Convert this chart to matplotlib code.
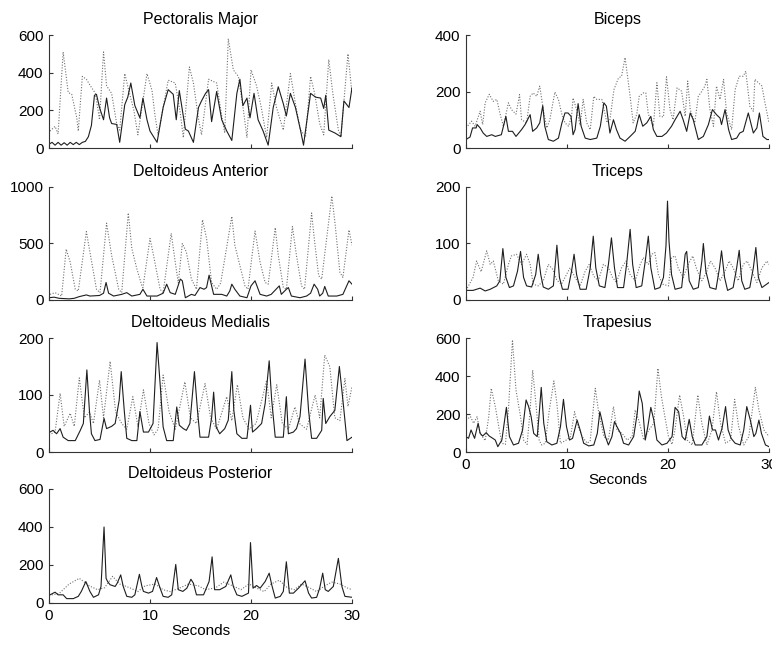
import matplotlib
matplotlib.use("Agg")
import matplotlib.pyplot as plt

# EMG envelopes, (seconds, value) pairs
pect_solid = [(0, 20), (0.3, 30), (0.6, 15), (0.9, 30), (1.2, 15), (1.5, 28), (1.8, 15), (2.1, 30), (2.4, 18),
              (2.7, 30), (3.0, 18), (3.3, 30), (3.6, 35), (3.9, 60), (4.2, 120), (4.5, 280), (4.7, 285), (5.0, 215),
              (5.4, 150), (5.7, 265), (6.0, 160), (6.2, 130), (6.7, 125), (7.0, 30), (7.5, 230), (7.8, 270),
              (8.1, 345), (8.5, 225), (9.0, 160), (9.3, 265), (9.7, 150), (10.0, 90), (10.7, 30), (11.3, 215),
              (11.8, 310), (12.3, 285), (12.6, 150), (12.9, 305), (13.5, 100), (13.8, 90), (14.3, 30), (14.8, 215),
              (15.1, 250), (15.5, 290), (15.8, 310), (16.1, 140), (16.6, 300), (17.1, 150), (17.6, 90), (18.1, 40),
              (18.6, 290), (18.9, 365), (19.2, 225), (19.6, 265), (19.9, 160), (20.3, 290), (20.7, 150), (21.2, 90),
              (21.7, 15), (22.2, 215), (22.7, 325), (23.2, 235), (23.5, 170), (23.9, 290), (24.4, 215), (24.9, 95),
              (25.2, 15), (25.9, 290), (26.4, 270), (26.9, 265), (27.2, 210), (27.4, 280), (27.7, 95), (28.3, 80),
              (28.9, 60), (29.2, 250), (29.7, 215), (30.0, 320)]
pect_dotted = [(0.1, 90), (0.6, 115), (0.9, 75), (1.4, 510), (1.9, 295), (2.25, 285), (2.75, 160), (2.9, 90),
               (3.3, 380), (3.7, 365), (4.1, 330), (4.6, 290), (5.0, 150), (5.4, 510), (5.7, 330), (6.2, 290),
               (6.7, 130), (7.0, 95), (7.5, 395), (7.9, 305), (8.4, 200), (8.8, 70), (9.7, 395), (10.2, 305),
               (10.5, 170), (10.8, 70), (11.8, 360), (12.5, 345), (13.0, 185), (13.3, 55), (13.9, 430), (14.3, 345),
               (14.8, 155), (15.1, 70), (15.8, 365), (16.6, 345), (17.1, 170), (17.4, 80), (17.75, 580), (18.25, 415),
               (18.75, 380), (19.25, 200), (19.6, 55), (20.0, 415), (20.55, 330), (21.0, 220), (21.55, 55),
               (22.05, 345), (22.5, 220), (23.2, 95), (23.9, 395), (24.4, 235), (24.9, 95), (25.4, 60), (25.9, 380),
               (26.3, 290), (26.8, 130), (27.2, 70), (27.7, 470), (28.1, 290), (28.65, 95), (28.9, 60), (29.6, 500),
               (30.0, 290)]

dant_solid = [(0, 20), (0.5, 25), (1.0, 15), (2.0, 10), (2.5, 15), (3.0, 30), (3.7, 45), (4.05, 35), (5.0, 40),
              (5.4, 60), (5.65, 155), (5.9, 60), (6.4, 35), (7.2, 50), (7.7, 65), (8.2, 35), (9.0, 50), (9.3, 95),
              (9.7, 35), (10.7, 35), (11.3, 60), (11.65, 140), (12.0, 65), (12.5, 50), (13.0, 185), (13.2, 170),
              (13.5, 20), (14.1, 50), (14.45, 40), (14.95, 110), (15.35, 95), (15.6, 110), (15.85, 220), (16.3, 50),
              (17.1, 50), (17.6, 35), (17.9, 80), (18.1, 140), (18.4, 95), (18.9, 35), (19.6, 20), (20.0, 125),
              (20.4, 170), (20.9, 50), (21.55, 35), (22.0, 50), (22.8, 125), (23.0, 50), (23.5, 95), (23.7, 110),
              (24.0, 35), (24.85, 20), (25.5, 35), (25.9, 60), (26.25, 140), (26.6, 95), (26.8, 35), (27.1, 60),
              (27.3, 120), (27.65, 35), (28.5, 35), (29.1, 50), (29.7, 170), (30.0, 140)]
dant_dotted = [(0.1, 50), (0.6, 65), (1.25, 35), (1.7, 450), (2.1, 335), (2.6, 95), (2.9, 80), (3.7, 605),
               (4.05, 425), (4.7, 95), (5.05, 65), (5.7, 680), (6.2, 395), (6.9, 95), (7.2, 65), (7.85, 770),
               (8.2, 455), (8.7, 275), (9.2, 125), (9.3, 110), (10.0, 545), (10.35, 395), (11.0, 95), (11.3, 65),
               (12.1, 590), (12.5, 335), (12.8, 150), (13.2, 500), (13.6, 425), (14.1, 185), (14.6, 95), (15.2, 710),
               (15.6, 545), (16.1, 155), (16.6, 95), (17.0, 150), (18.1, 740), (18.4, 485), (18.9, 305), (19.4, 125),
               (19.7, 95), (20.4, 610), (20.9, 335), (21.4, 155), (21.7, 140), (22.4, 640), (22.7, 395), (23.2, 110),
               (23.5, 95), (24.1, 650), (24.5, 395), (25.0, 125), (25.3, 95), (26.0, 770), (26.3, 515), (26.7, 215),
               (27.0, 185), (28.0, 920), (28.3, 695), (28.8, 245), (29.1, 200), (29.7, 620), (30.0, 485)]

dmed_solid = [(0.1, 35), (0.4, 38), (0.75, 32), (1.1, 41), (1.4, 26), (1.9, 20), (2.6, 20), (3.1, 38), (3.4, 50),
              (3.75, 144), (4.0, 73), (4.2, 32), (4.55, 20), (5.05, 22), (5.45, 59), (5.7, 41), (6.2, 45),
              (6.55, 50), (6.95, 91), (7.15, 141), (7.45, 73), (7.7, 24), (8.2, 20), (8.7, 20), (9.0, 71),
              (9.35, 35), (9.85, 35), (10.3, 50), (10.7, 192), (11.0, 120), (11.3, 44), (11.65, 20), (12.3, 20),
              (12.65, 79), (12.9, 47), (13.3, 41), (13.6, 38), (13.95, 50), (14.4, 141), (14.7, 73), (14.95, 26),
              (15.8, 26), (16.1, 60), (16.3, 105), (16.55, 44), (16.9, 32), (17.4, 41), (17.75, 56), (18.1, 141),
              (18.3, 73), (18.6, 32), (19.1, 24), (19.6, 24), (19.95, 82), (20.15, 35), (20.55, 41), (21.05, 50),
              (21.4, 85), (21.8, 160), (22.05, 91), (22.4, 26), (23.2, 26), (23.5, 97), (23.7, 32), (24.2, 35),
              (24.5, 41), (24.85, 62), (25.35, 163), (25.7, 73), (26.0, 24), (26.5, 24), (27.0, 38), (27.15, 94),
              (27.4, 50), (27.8, 62), (28.3, 73), (28.75, 150), (29.1, 91), (29.5, 20), (30.0, 26)]
dmed_dotted = [(0, 30), (0.6, 35), (1.1, 103), (1.5, 45), (2.1, 68), (2.5, 45), (3.0, 130), (3.5, 60), (4.0, 70),
               (4.4, 50), (5.0, 126), (5.4, 60), (6.05, 159), (6.6, 70), (7.2, 50), (7.7, 40), (8.3, 97), (8.8, 45),
               (9.35, 109), (9.9, 50), (10.4, 30), (10.8, 40), (11.3, 135), (11.9, 70), (12.5, 40), (13.45, 123),
               (14.0, 60), (14.6, 50), (15.45, 120), (16.0, 60), (16.6, 40), (17.6, 97), (18.1, 55), (18.65, 118),
               (19.2, 60), (19.8, 40), (20.5, 50), (21.55, 126), (22.0, 60), (22.55, 118), (23.1, 50), (23.7, 40),
               (24.35, 79), (24.8, 50), (25.5, 40), (26.35, 100), (26.8, 60), (27.3, 170), (27.8, 150), (28.3, 60),
               (28.8, 55), (29.3, 129), (29.6, 80), (30.0, 115)]

dpost_solid = [(0.1, 43), (0.6, 57), (0.9, 43), (1.4, 43), (1.75, 23), (2.4, 23), (2.9, 35), (3.2, 61), (3.65, 113),
               (4.05, 61), (4.4, 30), (4.9, 43), (5.15, 87), (5.45, 400), (5.65, 130), (5.8, 113), (6.05, 96),
               (6.55, 87), (6.75, 104), (7.1, 148), (7.35, 87), (7.7, 35), (8.2, 30), (8.5, 43), (8.95, 151),
               (9.2, 87), (9.35, 61), (9.85, 52), (10.25, 61), (10.65, 134), (11.0, 78), (11.3, 35), (11.8, 30),
               (12.15, 43), (12.55, 203), (12.8, 70), (13.25, 61), (13.65, 78), (14.05, 125), (14.3, 104),
               (14.6, 43), (15.3, 43), (15.85, 113), (16.15, 243), (16.4, 70), (16.9, 70), (17.5, 87), (18.0, 148),
               (18.25, 87), (18.6, 43), (19.1, 35), (19.75, 52), (19.95, 318), (20.2, 78), (20.55, 92), (20.9, 78),
               (21.4, 113), (21.8, 157), (22.05, 96), (22.4, 26), (22.9, 35), (23.2, 61), (23.5, 217), (23.8, 52),
               (24.2, 52), (24.7, 78), (25.35, 117), (25.7, 52), (26.0, 26), (26.5, 30), (26.8, 78), (27.1, 157),
               (27.35, 70), (27.65, 61), (28.15, 87), (28.65, 235), (29.0, 87), (29.3, 35), (30.0, 30)]
dpost_dotted = [(0, 40), (1, 50), (2, 100), (3, 130), (4, 90), (4.8, 70), (5.5, 80), (6.3, 140), (7, 100), (8, 80),
                (8.8, 60), (9.5, 90), (10.5, 100), (11.3, 70), (12, 60), (13, 80), (13.8, 100), (14.8, 90),
                (15.5, 70), (16.5, 80), (17.3, 110), (18.2, 90), (19, 70), (19.8, 100), (20.5, 80), (21.3, 60),
                (22, 100), (22.8, 120), (23.6, 80), (24.3, 70), (25, 100), (25.8, 80), (26.5, 60), (27.3, 90),
                (28, 110), (28.8, 100), (29.5, 80), (30, 70)]

bic_solid = [(0.0, 30), (0.4, 39), (0.65, 71), (1.0, 71), (1.1, 83), (1.4, 71), (1.7, 53), (2.05, 41), (2.55, 47),
             (2.9, 41), (3.5, 47), (3.95, 112), (4.2, 59), (4.6, 59), (4.95, 41), (5.5, 65), (5.85, 83), (6.35, 118),
             (6.6, 59), (7.0, 71), (7.3, 89), (7.6, 150), (7.8, 77), (8.15, 30), (8.65, 24), (9.15, 35), (9.5, 89),
             (9.8, 124), (10.1, 124), (10.4, 112), (10.6, 47), (10.8, 65), (11.1, 157), (11.4, 77), (11.8, 35),
             (12.3, 30), (12.95, 35), (13.3, 77), (13.65, 160), (13.9, 148), (14.25, 53), (14.6, 100), (14.9, 65),
             (15.25, 35), (15.75, 24), (16.25, 41), (16.75, 59), (17.15, 118), (17.5, 77), (17.9, 89), (18.3, 112),
             (18.55, 65), (18.9, 41), (19.4, 41), (19.85, 53), (20.35, 77), (20.7, 100), (21.2, 130), (21.5, 100),
             (21.85, 59), (22.2, 124), (22.5, 100), (23.0, 30), (23.5, 41), (24.0, 83), (24.4, 136), (24.8, 118),
             (25.15, 106), (25.3, 83), (25.65, 136), (26.0, 65), (26.3, 30), (26.8, 35), (27.1, 53), (27.45, 59),
             (27.95, 124), (28.45, 53), (28.8, 71), (29.05, 124), (29.4, 41), (29.8, 30), (30.0, 30)]
bic_dotted = [(0.0, 71), (0.55, 95), (0.9, 77), (1.4, 130), (1.65, 83), (1.9, 160), (2.3, 190), (2.7, 165),
              (3.05, 172), (3.35, 124), (3.7, 77), (4.2, 160), (4.5, 136), (4.95, 120), (5.3, 189), (5.5, 100),
              (6.0, 89), (6.35, 183), (6.65, 195), (7.0, 183), (7.3, 219), (7.65, 136), (8.0, 71), (8.3, 100),
              (8.8, 198), (9.15, 172), (9.5, 118), (9.8, 89), (10.15, 77), (10.45, 112), (10.6, 177), (10.95, 136),
              (11.3, 80), (11.6, 172), (11.95, 89), (12.3, 65), (12.65, 183), (12.95, 172), (13.45, 172),
              (13.95, 90), (14.25, 100), (14.65, 207), (15.1, 248), (15.4, 254), (15.75, 320), (15.95, 266),
              (16.25, 183), (16.55, 89), (16.9, 118), (17.15, 183), (17.55, 195), (17.8, 195), (18.05, 120),
              (18.55, 77), (18.9, 231), (19.2, 112), (19.55, 110), (19.85, 252), (20.2, 136), (20.5, 100),
              (20.9, 213), (21.35, 201), (21.7, 112), (21.95, 237), (22.2, 136), (22.65, 89), (23.0, 183),
              (23.35, 201), (23.65, 219), (23.85, 243), (24.15, 136), (24.5, 77), (24.8, 219), (25.15, 172),
              (25.5, 243), (25.8, 124), (26.3, 65), (26.65, 207), (27.05, 254), (27.45, 254), (27.7, 272),
              (28.1, 148), (28.45, 130), (28.6, 243), (28.95, 231), (29.3, 219), (29.6, 160), (30.0, 89)]

tri_solid = [(0.0, 17), (0.7, 17), (1.4, 21), (1.9, 16), (2.4, 19), (3.05, 25), (3.35, 34), (3.65, 91), (3.95, 40),
             (4.3, 22), (4.7, 25), (5.1, 51), (5.4, 86), (5.7, 40), (6.0, 25), (6.5, 23), (6.9, 45), (7.15, 81),
             (7.4, 45), (7.65, 23), (8.15, 19), (8.65, 25), (9.0, 97), (9.25, 40), (9.55, 19), (10.1, 19),
             (10.45, 51), (10.7, 81), (10.95, 45), (11.3, 19), (11.9, 19), (12.3, 57), (12.6, 113), (12.85, 57),
             (13.2, 25), (13.75, 22), (14.1, 63), (14.4, 110), (14.7, 57), (15.0, 22), (15.6, 22), (15.9, 63),
             (16.25, 125), (16.5, 63), (16.85, 22), (17.4, 25), (17.75, 69), (18.05, 113), (18.3, 57), (18.7, 19),
             (19.2, 22), (19.55, 40), (19.8, 96), (19.95, 175), (20.1, 104), (20.35, 45), (20.7, 19), (21.35, 22),
             (21.7, 81), (21.85, 86), (22.1, 34), (22.5, 19), (23.0, 22), (23.35, 69), (23.5, 100), (23.75, 51),
             (24.15, 22), (24.75, 19), (25.1, 57), (25.3, 87), (25.6, 40), (25.9, 17), (26.45, 22), (26.8, 57),
             (27.05, 88), (27.3, 34), (27.6, 19), (28.1, 22), (28.45, 57), (28.7, 93), (28.95, 40), (29.3, 22),
             (30.0, 31)]
tri_dotted = [(0.0, 17), (0.7, 40), (1.05, 69), (1.5, 50), (2.05, 87), (2.4, 63), (2.7, 69), (3.2, 34), (3.7, 28),
              (4.2, 63), (4.5, 78), (5.0, 81), (5.5, 63), (6.0, 81), (6.35, 63), (6.65, 28), (7.15, 25), (7.65, 34),
              (8.15, 63), (8.6, 54), (9.0, 35), (9.45, 28), (9.95, 45), (10.3, 57), (10.8, 40), (11.3, 25),
              (11.8, 51), (12.2, 63), (12.65, 42), (13.1, 34), (13.6, 63), (14.1, 57), (14.5, 40), (14.9, 31),
              (15.4, 57), (15.85, 69), (16.25, 45), (16.75, 34), (17.25, 63), (17.55, 75), (18.05, 63), (18.4, 81),
              (18.7, 84), (19.05, 45), (19.45, 28), (20.05, 25), (20.35, 75), (20.7, 78), (21.0, 57), (21.5, 40),
              (22.0, 63), (22.45, 78), (22.85, 54), (23.35, 34), (23.85, 51), (24.2, 69), (24.65, 57), (25.15, 34),
              (25.65, 51), (26.05, 69), (26.45, 57), (26.95, 34), (27.45, 63), (27.85, 69), (28.3, 51), (28.8, 31),
              (29.3, 57), (29.8, 69), (30.0, 63)]

trap_solid = [(0.0, 81), (0.25, 72), (0.5, 116), (0.85, 72), (1.2, 151), (1.4, 98), (1.65, 84), (2.0, 102),
              (2.3, 84), (2.65, 72), (2.9, 63), (3.15, 28), (3.55, 63), (4.0, 235), (4.3, 81), (4.7, 37), (5.2, 46),
              (5.6, 116), (5.95, 274), (6.2, 239), (6.45, 186), (6.7, 98), (7.05, 81), (7.25, 203), (7.45, 340),
              (7.7, 151), (8.0, 54), (8.5, 37), (9.0, 46), (9.35, 133), (9.65, 277), (9.95, 133), (10.25, 63),
              (10.55, 72), (11.0, 168), (11.3, 116), (11.65, 46), (12.15, 32), (12.65, 37), (13.0, 98), (13.25, 212),
              (13.45, 168), (13.8, 81), (14.1, 37), (14.45, 81), (14.7, 160), (14.95, 133), (15.3, 98), (15.6, 46),
              (16.1, 37), (16.6, 81), (16.95, 203), (17.15, 321), (17.45, 256), (17.75, 63), (18.0, 133),
              (18.3, 235), (18.6, 168), (18.9, 63), (19.4, 37), (19.9, 46), (20.4, 81), (20.7, 235), (21.05, 212),
              (21.4, 81), (21.7, 63), (22.1, 172), (22.4, 81), (22.7, 37), (23.35, 37), (23.85, 81), (24.1, 189),
              (24.4, 116), (24.7, 116), (25.0, 63), (25.35, 125), (25.7, 239), (25.95, 116), (26.25, 72),
              (26.65, 46), (27.15, 37), (27.5, 116), (27.8, 239), (28.15, 168), (28.5, 81), (28.7, 98), (29.0, 168),
              (29.25, 98), (29.65, 37), (30.0, 28)]
trap_dotted = [(0.0, 168), (0.45, 186), (0.75, 151), (1.1, 186), (1.4, 98), (1.9, 60), (2.25, 186), (2.5, 335),
               (2.9, 239), (3.3, 116), (3.55, 46), (3.9, 40), (4.2, 221), (4.6, 590), (4.95, 326), (5.4, 186),
               (5.7, 63), (6.05, 40), (6.35, 221), (6.6, 431), (6.95, 239), (7.25, 60), (7.5, 37), (7.85, 46),
               (8.25, 221), (8.7, 374), (9.0, 256), (9.35, 46), (9.85, 60), (10.35, 81), (10.75, 212), (11.1, 133),
               (11.5, 81), (12.0, 46), (12.3, 60), (12.8, 335), (13.15, 203), (13.65, 81), (14.1, 63), (14.6, 239),
               (14.95, 116), (15.45, 98), (15.95, 63), (16.45, 81), (16.75, 221), (17.1, 168), (17.6, 63),
               (18.1, 116), (18.6, 151), (19.0, 440), (19.35, 291), (19.75, 168), (20.05, 81), (20.4, 40),
               (20.7, 120), (21.15, 300), (21.55, 186), (21.9, 63), (22.4, 37), (22.95, 300), (23.35, 151),
               (23.85, 37), (24.35, 116), (24.8, 317), (25.2, 151), (25.7, 46), (26.2, 63), (26.6, 277), (27.0, 133),
               (27.5, 37), (28.0, 81), (28.65, 340), (29.0, 221), (29.5, 116), (30.0, 81)]

titles = ["Pectoralis Major", "Deltoideus Anterior", "Deltoideus Medialis", "Deltoideus Posterior",
          "Biceps", "Triceps", "Trapesius"]
solids = [pect_solid, dant_solid, dmed_solid, dpost_solid, bic_solid, tri_solid, trap_solid]
dotteds = [pect_dotted, dant_dotted, dmed_dotted, dpost_dotted, bic_dotted, tri_dotted, trap_dotted]
yticks = [[0, 200, 400, 600], [0, 500, 1000], [0, 100, 200], [0, 200, 400, 600],
          [0, 200, 400], [0, 100, 200], [0, 200, 400, 600]]
xticks = [0, 10, 20, 30]

plt.rcParams['font.family'] = ['Liberation Sans', 'DejaVu Sans']
plt.rcParams['font.size'] = 11

fig = plt.figure(figsize=(7.72, 6.45), dpi=100)

# axes boxes in pixels (left..right, top..bottom) measured on the reference
row_px = [(35, 148), (187, 300), (338, 452), (489, 603)]
col_px = [(49, 352), (466, 769)]
slots = [(0, 0), (0, 1), (0, 2), (0, 3), (1, 0), (1, 1), (1, 2)]
W, H = 772.0, 645.0

for i, (c, r) in enumerate(slots):
    x0, x1 = col_px[c]
    y0, y1 = row_px[r]
    ax = fig.add_axes([x0 / W, 1 - y1 / H, (x1 - x0) / W, (y1 - y0) / H])

    ts, vs = zip(*dotteds[i])
    ax.plot(ts, vs, linestyle=(0, (1, 1.5)), color='#707070', lw=0.8)
    ts, vs = zip(*solids[i])
    ax.plot(ts, vs, color='#1e1e1e', lw=0.8)

    ax.set_xlim(0, 30)
    ax.set_ylim(yticks[i][0], yticks[i][-1])
    ax.set_xticks(xticks)
    ax.set_yticks(yticks[i])
    ax.set_title(titles[i], fontsize=11.5, pad=8)
    for s in ['top', 'right']:
        ax.spines[s].set_visible(False)
    for s in ['left', 'bottom']:
        ax.spines[s].set_color('#333333')
        ax.spines[s].set_linewidth(0.8)
    ax.tick_params(direction='in', length=3, width=0.8, color='#333333', labelsize=11, pad=4)

    bottom_panel = (c == 0 and r == 3) or (c == 1 and r == 2)
    if bottom_panel:
        ax.set_xlabel('Seconds', fontsize=11, labelpad=1)
    else:
        ax.set_xticklabels([])

fig.savefig('out.png', dpi=100)
